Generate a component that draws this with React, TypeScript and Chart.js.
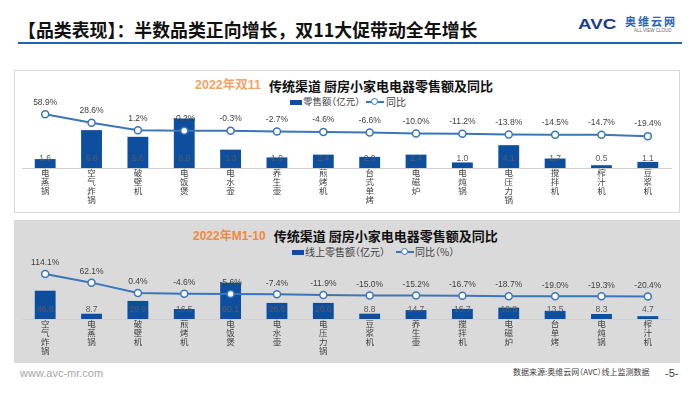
import React, { useEffect, useRef } from 'react';
import { Chart, registerables } from 'chart.js';
Chart.register(...registerables);

const CJK = '"Noto Sans CJK SC", "Noto Sans", sans-serif';
const NUM = '"Liberation Sans", "Noto Sans CJK SC", sans-serif';
const BAR_COLOR = '#0d4f9e';
const LINE_COLOR = '#3a76ba';
const TEXT = '#404040';

// Chart 1: 2022年双11
const categories1 = ['电蒸锅', '空气炸锅', '破壁机', '电饭煲', '电水壶', '养生壶', '煎烤机', '台式单烤', '电磁炉', '电炖锅', '电压力锅', '搅拌机', '榨汁机', '豆浆机'];
const sales1 = [1.6, 6.8, 5.6, 8.9, 3.3, 1.9, 2.4, 2.0, 2.4, 1.0, 4.1, 1.7, 0.5, 1.1];
const yoy1 = [58.9, 28.6, 1.2, -0.2, -0.3, -2.7, -4.6, -6.6, -10.0, -11.2, -13.8, -14.5, -14.7, -19.4];

// Chart 2: 2022年M1-10
const categories2 = ['空气炸锅', '电蒸锅', '破壁机', '煎烤机', '电饭煲', '电水壶', '电压力锅', '豆浆机', '养生壶', '搅拌机', '电磁炉', '台单烤', '电炖锅', '榨汁机'];
const sales2 = [46.8, 8.7, 29.9, 16.5, 60.1, 26.6, 26.6, 8.8, 14.7, 16.7, 18.8, 13.5, 8.3, 4.7];
const yoy2 = [114.1, 62.1, 0.4, -4.6, -5.6, -7.4, -11.9, -15.0, -15.2, -16.7, -18.7, -19.0, -19.3, -20.4];

const valueLabels = {
  id: 'valueLabels',
  afterDatasetsDraw(chart: any, _args: any, opts: any) {
    const ctx = chart.ctx;
    const barMeta = chart.getDatasetMeta(0);
    const lineMeta = chart.getDatasetMeta(1);
    const base = chart.scales.y.getPixelForValue(0);
    const bars = chart.data.datasets[0].data as number[];
    const lines = chart.data.datasets[1].data as number[];
    ctx.save();
    ctx.font = `8.5px ${NUM}`;
    ctx.textAlign = 'center';
    ctx.textBaseline = 'middle';
    ctx.fillStyle = '#5a5a5a';
    barMeta.data.forEach((el: any, i: number) => {
      ctx.fillText(bars[i].toFixed(1), el.x, base - 9);
    });
    ctx.fillStyle = TEXT;
    lineMeta.data.forEach((el: any, i: number) => {
      ctx.fillText(lines[i].toFixed(1) + '%', el.x, el.y - (opts.lineOffset || 12));
    });
    ctx.restore();
  },
};

type CCProps = {
  cats: string[];
  sales: number[];
  yoy: number[];
  barMax: number;
  lineMin: number;
  lineMax: number;
  xHeight: number;
  lineOffset: number;
  left: number;
  top: number;
};

function ComboChart(p: CCProps) {
  const ref = useRef<HTMLCanvasElement>(null);
  useEffect(() => {
    const chart = new Chart(ref.current as HTMLCanvasElement, {
      type: 'bar',
      data: {
        labels: p.cats.map((c) => c.split('')),
        datasets: [
          {
            type: 'bar',
            data: p.sales,
            backgroundColor: BAR_COLOR,
            yAxisID: 'y',
            order: 1,
            barPercentage: 0.45,
            categoryPercentage: 1,
          } as any,
          {
            type: 'line',
            data: p.yoy,
            yAxisID: 'y1',
            order: 0,
            borderColor: LINE_COLOR,
            borderWidth: 2,
            pointRadius: 3.5,
            pointBackgroundColor: '#ffffff',
            pointBorderColor: LINE_COLOR,
            pointBorderWidth: 1.5,
            tension: 0,
            fill: false,
          } as any,
        ],
      },
      options: {
        responsive: false,
        animation: false,
        devicePixelRatio: 1,
        layout: { padding: { left: 8, right: 9, top: 20, bottom: 0 } },
        plugins: {
          legend: { display: false },
          tooltip: { enabled: false },
          valueLabels: { lineOffset: p.lineOffset },
        } as any,
        scales: {
          x: {
            grid: { display: false, drawTicks: false },
            border: { display: true, color: '#d0d0d0', width: 1 },
            ticks: {
              autoSkip: false,
              maxRotation: 0,
              padding: 0,
              color: TEXT,
              font: { family: CJK, size: 8.5, lineHeight: '9.2px' },
            },
            afterFit: (s: any) => {
              s.height = p.xHeight;
            },
          },
          y: { display: false, min: 0, max: p.barMax },
          y1: { display: false, min: p.lineMin, max: p.lineMax, position: 'right' },
        },
      } as any,
      plugins: [valueLabels as any],
    });
    return () => chart.destroy();
  }, []);
  return (
    <canvas
      ref={ref}
      width={666}
      height={143}
      style={{ position: 'absolute', left: p.left, top: p.top, width: 666, height: 143 }}
    />
  );
}

function T(props: { x: number; y: number; size: number; color?: string; weight?: any; family?: string; halt?: boolean; ls?: number; sx?: number; children: any }) {
  return (
    <div
      style={{
        position: 'absolute',
        left: props.x,
        top: props.y,
        transform: `translateY(-50%)${props.sx ? ` scaleX(${props.sx})` : ''}`,
        transformOrigin: 'left center',
        fontSize: props.size,
        lineHeight: 1,
        whiteSpace: 'nowrap',
        color: props.color || TEXT,
        fontWeight: props.weight || 400,
        fontFamily: props.family || CJK,
        fontFeatureSettings: props.halt ? '"halt"' : 'normal',
        letterSpacing: props.ls || 0,
      }}
    >
      {props.children}
    </div>
  );
}

function Title({ x, y, orange, orangeColor, orangeSize, rest }: { x: number; y: number; orange: string; orangeColor: string; orangeSize: number; rest: string }) {
  return (
    <div
      style={{
        position: 'absolute',
        left: x,
        top: y,
        transform: 'translateY(-50%)',
        whiteSpace: 'nowrap',
        lineHeight: 1,
        display: 'flex',
        alignItems: 'center',
      }}
    >
      <span style={{ fontFamily: NUM, fontWeight: 700, fontSize: orangeSize, color: orangeColor }}>{orange}</span>
      <span style={{ fontFamily: CJK, fontWeight: 700, fontSize: 13, color: '#111', marginLeft: 8 }}>{rest}</span>
    </div>
  );
}

function LegendBar({ x, y }: { x: number; y: number }) {
  return <div style={{ position: 'absolute', left: x, top: y - 2.5, width: 12, height: 5, background: BAR_COLOR }} />;
}

function LegendLine({ x, y }: { x: number; y: number }) {
  return (
    <div style={{ position: 'absolute', left: x, top: y - 4, width: 18, height: 8 }}>
      <div style={{ position: 'absolute', left: 0, top: 3, width: 18, height: 2, background: LINE_COLOR }} />
      <div
        style={{
          position: 'absolute',
          left: 5,
          top: 0,
          width: 5,
          height: 5,
          borderRadius: '50%',
          background: '#fff',
          border: `1.5px solid ${LINE_COLOR}`,
        }}
      />
    </div>
  );
}

export default function App() {
  return (
    <div style={{ position: 'fixed', left: 0, top: 0, width: 700, height: 394, background: '#ffffff', overflow: 'hidden' }}>
      {/* header */}
      <T x={18} y={30} size={17.9} color="#111" weight={700}>
        【品类表现】：半数品类正向增长，双11大促带动全年增长
      </T>
      <div style={{ position: 'absolute', left: 18, top: 41.5, width: 664, height: 2, background: '#2463a8' }} />
      <T x={578} y={23} size={15} color="#1a3c8c" weight={900} family={NUM} sx={1.25}>
        AVC
      </T>
      <T x={625} y={21} size={11} color="#2a64b0" weight={700} ls={2}>
        奥维云网
      </T>
      <T x={634} y={31} size={4.5} color="#666" family={NUM}>
        ALL VIEW CLOUD
      </T>

      {/* panel 1 */}
      <div
        style={{
          position: 'absolute',
          left: 14,
          top: 70,
          width: 664,
          height: 141,
          border: '1px solid #d9d9d9',
          background: '#ffffff',
        }}
      />
      <Title x={195} y={85} orange="2022年双11" orangeColor="#f2a468" orangeSize={12.5} rest="传统渠道 厨房小家电电器零售额及同比" />
      <LegendBar x={290} y={102} />
      <T x={303} y={102} size={9.5} halt>
        零售额（亿元）
      </T>
      <LegendLine x={366} y={102} />
      <T x={386} y={102} size={10}>
        同比
      </T>
      <ComboChart
        cats={categories1}
        sales={sales1}
        yoy={yoy1}
        barMax={14}
        lineMin={-133}
        lineMax={145}
        xHeight={45}
        lineOffset={12}
        left={14}
        top={70}
      />

      {/* panel 2 */}
      <div style={{ position: 'absolute', left: 14, top: 220, width: 666, height: 143, background: '#dadada' }} />
      <Title x={193} y={235} orange="2022年M1-10" orangeColor="#f08a40" orangeSize={12} rest="传统渠道 厨房小家电电器零售额及同比" />
      <LegendBar x={292} y={252} />
      <T x={305} y={252} size={10} halt>
        线上零售额（亿元）
      </T>
      <LegendLine x={396} y={252} />
      <T x={415} y={252} size={10} halt>
        同比（%）
      </T>
      <ComboChart
        cats={categories2}
        sales={sales2}
        yoy={yoy2}
        barMax={130.6}
        lineMin={-155.6}
        lineMax={317.5}
        xHeight={44}
        lineOffset={11}
        left={14}
        top={220}
      />

      {/* footer */}
      <T x={20} y={373} size={11} color="#a6a6a6" family={NUM}>
        www.avc-mr.com
      </T>
      <T x={513} y={372} size={8} color="#404040" halt>
        数据来源:奥维云网（AVC）线上监测数据
      </T>
      <T x={665} y={373} size={11} color="#404040" family={NUM}>
        -5-
      </T>
    </div>
  );
}
